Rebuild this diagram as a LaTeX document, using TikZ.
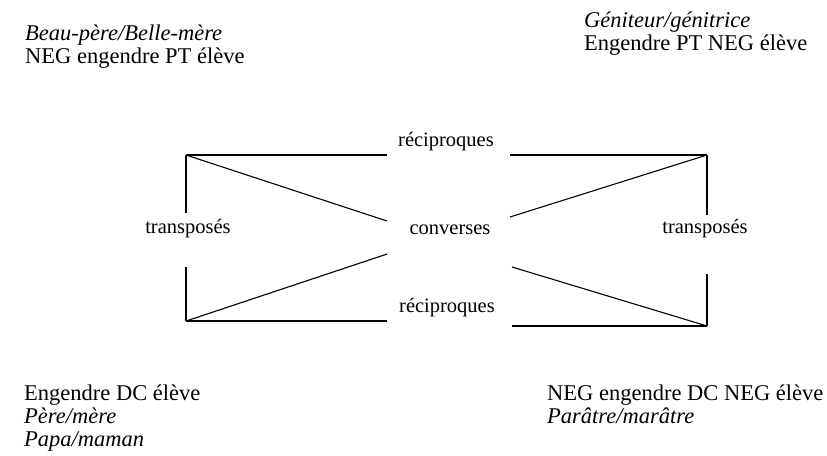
\documentclass[tikz,border=0pt]{standalone}
\usepackage{fontspec}
\setmainfont{Liberation Serif}
\usetikzlibrary{positioning}

\tikzset{
  lbl/.style={inner sep=0pt, font=\fontsize{20.5}{22}\selectfont},
  blk/.style={inner sep=0pt, align=left, font=\fontsize{22.5}{23}\selectfont},
  edge/.style={line width=1.1pt}
}

\begin{document}
\begin{tikzpicture}[x=1pt,y=-1pt]
  \useasboundingbox (0,0) rectangle (827,455);

  % --- corner texts (anchored on their last line) ---
  \node[blk, anchor=base west] (beau) at (25,63)
    {\textit{Beau-père/Belle-mère}\\NEG engendre PT élève};
  \node[blk, anchor=base west] (geni) at (584,50)
    {\textit{Géniteur/génitrice}\\Engendre PT NEG élève};
  \node[blk, anchor=base west] (pere) at (24,446)
    {Engendre DC élève\\\textit{Père/mère}\\\textit{Papa/maman}};
  \node[blk, anchor=base west] (para) at (547,423)
    {NEG engendre DC NEG élève\\\textit{Parâtre/marâtre}};

  % --- corners of the square ---
  \coordinate (tl) at (186,155);
  \coordinate (tr) at (707,155);
  \coordinate (bl) at (186,321);
  \coordinate (br) at (707,326);

  % --- relation labels ---
  \node[lbl] (rtop) at (446,142) {réciproques};
  \node[lbl] (conv) at (450,230) {converses};
  \node[lbl] (rbot) at (447,308) {réciproques};
  \node[lbl] (tleft) at (188,229) {transposés};
  \node[lbl] (tright) at (705,229) {transposés};

  % --- free ends near the middle ---
  \coordinate (c1) at (387,221);
  \coordinate (c2) at (387,254);
  \coordinate (c3) at (510,217);
  \coordinate (c4) at (512,267);

  % --- horizontals ---
  \draw[edge] (tl) -- (tl -| c1);
  \draw[edge] (tr -| c3) -- (tr);
  \draw[edge] (bl) -- (bl -| c2);
  \draw[edge] (br -| c4) -- (br);

  % --- verticals ---
  \draw[edge] (tl) -- ([yshift=6pt]tleft.north -| tl);
  \draw[edge] ([yshift=-28pt]tleft.south -| bl) -- (bl);
  \draw[edge] (tr) -- ([yshift=4pt]tright.north -| tr);
  \draw[edge] ([yshift=-35pt]tright.south -| br) -- (br);

  % --- diagonals ---
  \draw[edge] (tl) -- (c1);
  \draw[edge] (bl) -- (c2);
  \draw[edge] (c3) -- (tr);
  \draw[edge] (c4) -- (br);
\end{tikzpicture}
\end{document}
